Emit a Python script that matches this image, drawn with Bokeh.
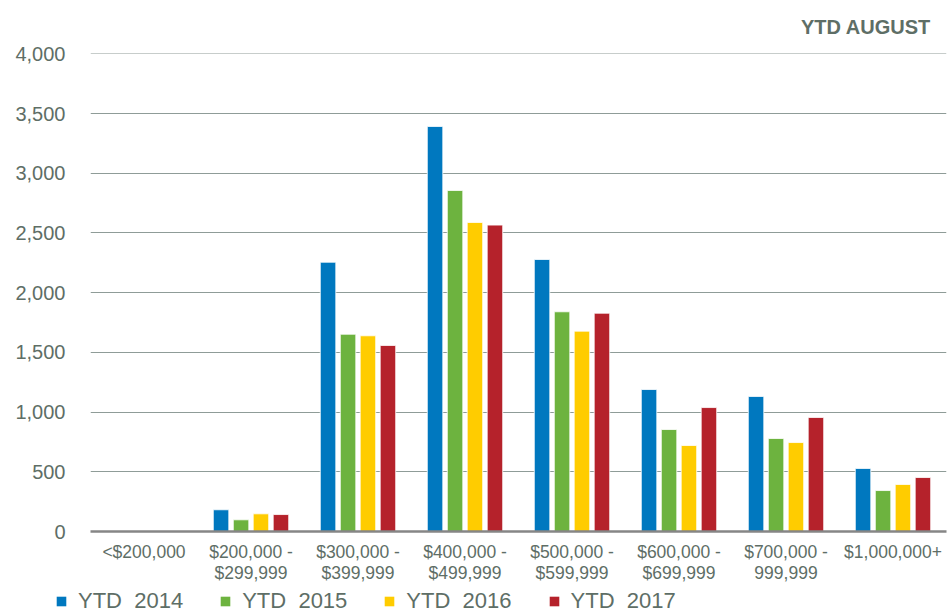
from bokeh.plotting import figure
from bokeh.layouts import column, row
from bokeh.models import ColumnDataSource, FactorRange, Range1d, Legend, LegendItem, NumeralTickFormatter, SingleIntervalTicker
from bokeh.transform import dodge
from bokeh.embed import file_html
from bokeh.resources import INLINE

categories = ["<$200,000", "$200,000 -\n$299,999", "$300,000 -\n$399,999", "$400,000 -\n$499,999",
              "$500,000 -\n$599,999", "$600,000 -\n$699,999", "$700,000 -\n999,999", "$1,000,000+"]
ytd_2014 = [0, 182, 2255, 3392, 2278, 1189, 1131, 528]
ytd_2015 = [0, 98, 1652, 2856, 1840, 854, 779, 343]
ytd_2016 = [0, 148, 1639, 2588, 1678, 720, 745, 394]
ytd_2017 = [0, 142, 1558, 2566, 1828, 1038, 955, 452]
series_names = ["YTD  2014", "YTD  2015", "YTD  2016", "YTD  2017"]
colors = ["#0078BF", "#6DB33F", "#FFCC00", "#B5222B"]

TEXT = "#5E6E66"
FONT = "Liberation Sans"

src = ColumnDataSource(dict(cat=categories, y2014=ytd_2014, y2015=ytd_2015, y2016=ytd_2016, y2017=ytd_2017))

xr = FactorRange(*categories, range_padding=0)
p = figure(width=952, height=590, x_range=xr,
           y_range=Range1d(0, 4003), output_backend="svg", toolbar_location=None,
           min_border_left=90, min_border_right=6, min_border_top=53, min_border_bottom=59,
           title="YTD  AUGUST")
p.outline_line_color = None
p.background_fill_color = "white"

p.title.align = "right"
p.title.vertical_align = "top"
p.title.text_font_size = "20px"
p.title.text_font_style = "bold"
p.title.text_color = TEXT
p.title.text_font = FONT
p.title.offset = 10
p.title.standoff = 28

offsets = [-0.28, -0.093, 0.093, 0.28]
fields = ["y2014", "y2015", "y2016", "y2017"]
for f, off, c in zip(fields, offsets, colors):
    p.vbar(x=dodge("cat", off, range=xr), top=f, width=0.145, source=src,
           fill_color=c, line_color="white", line_width=0.8)

p.xgrid.grid_line_color = None
p.ygrid.grid_line_color = "#8F9C98"
p.ygrid.grid_line_width = 1.2
p.yaxis.ticker = SingleIntervalTicker(interval=500)
p.yaxis.formatter = NumeralTickFormatter(format="0,0")
p.yaxis.axis_line_color = None
p.yaxis.major_tick_line_color = None
p.yaxis.minor_tick_line_color = None
p.yaxis.major_label_standoff = 19
p.yaxis.major_label_text_font_size = "20px"
p.yaxis.major_label_text_color = TEXT
p.yaxis.major_label_text_font = FONT

p.xaxis.axis_line_color = "#868686"
p.xaxis.axis_line_width = 2.5
p.xaxis.major_tick_line_color = None
p.xaxis.minor_tick_line_color = None
p.xaxis.major_label_standoff = 4
p.xaxis.major_label_text_font_size = "17.5px"
p.xaxis.major_label_text_color = TEXT
p.xaxis.major_label_text_font = FONT
p.xaxis.major_label_text_line_height = 1.05

# legend strip below the chart (its bars sit outside the visible y range)
lg = figure(width=952, height=25, x_range=FactorRange(*categories, range_padding=0),
            y_range=Range1d(5000, 5001), x_axis_type=None, y_axis_type=None,
            output_backend="svg", toolbar_location=None, min_border=0)
lg.grid.grid_line_color = None
lg.outline_line_color = None
leg_renderers = []
for f, off, c in zip(fields, offsets, colors):
    r = lg.vbar(x=dodge("cat", off, range=lg.x_range), top=f, width=0.145, source=src,
                fill_color=c, line_color=None)
    leg_renderers.append(r)

legend = Legend(items=[LegendItem(label=n, renderers=[r]) for n, r in zip(series_names, leg_renderers)],
                orientation="horizontal", location=(55, 1), label_text_font_size="22px",
                label_text_color=TEXT, label_text_font=FONT, glyph_width=12, glyph_height=12,
                label_standoff=11, spacing=36, padding=0, margin=0, label_height=22,
                border_line_color=None, background_fill_alpha=0)
lg.add_layout(legend, "center")

layout = column(p, row(lg), spacing=0)
open("out.html", "w").write(file_html(layout, INLINE))
